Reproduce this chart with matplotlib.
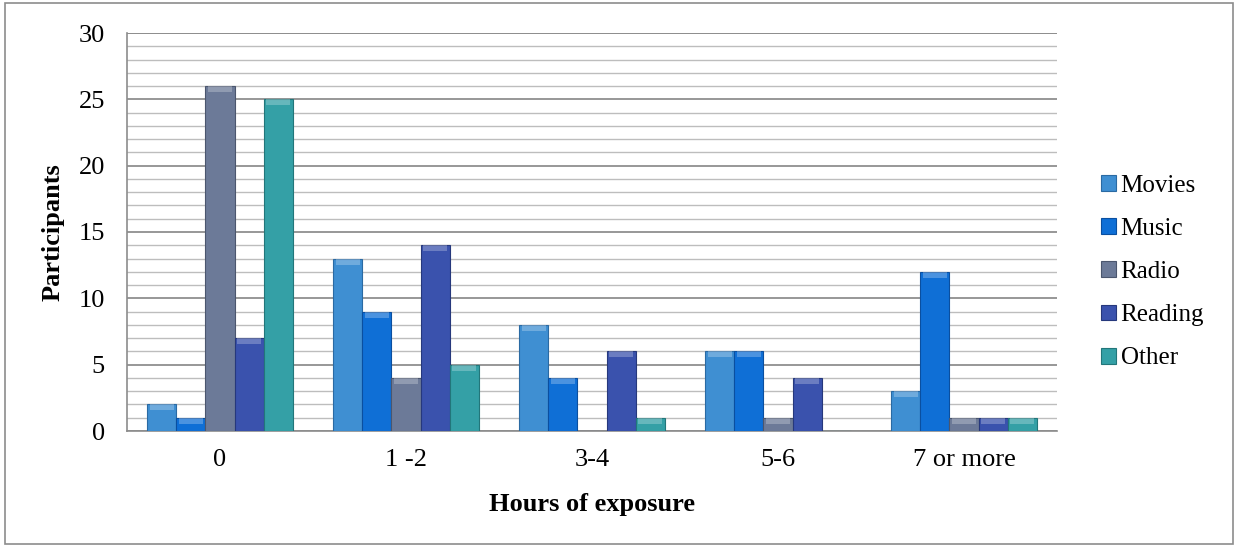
import numpy as np
import matplotlib
matplotlib.use("Agg")
import matplotlib.pyplot as plt
from matplotlib.patches import Rectangle

# ===== DANE =====
categories = ["0", "1 -2", "3-4", "5-6", "7 or more"]
series_names = ["Movies", "Music", "Radio", "Reading", "Other"]
movies = [2, 13, 8, 6, 3]
music = [1, 9, 4, 6, 12]
radio = [26, 4, 0, 1, 1]
reading = [7, 14, 6, 4, 1]
other = [25, 5, 1, 0, 1]

colors = ["#3f8fd2", "#0f6fd6", "#6c7a98", "#3a52ad", "#34a0a6"]
edge_colors = ["#2a6aa3", "#0a4fa0", "#4b566e", "#26387c", "#22767a"]

plt.rcParams["font.family"] = ["Liberation Serif", "DejaVu Serif"]

fig = plt.figure(figsize=(12.35, 5.46), dpi=100)
ax = fig.add_axes([127 / 1235, 1 - 431 / 546, 930 / 1235, 398 / 546])

# ramka wokół całego wykresu
fig.patches.append(Rectangle((5 / 1235, 2 / 546), 1228 / 1235, 541 / 546,
                             transform=fig.transFigure, fill=False,
                             edgecolor="#8c8c8c", linewidth=1.2))

x = np.arange(len(categories))
width = 0.156
all_series = [movies, music, radio, reading, other]
for i, (vals, name) in enumerate(zip(all_series, series_names)):
    offs = (i - 2) * width
    ax.bar(x + offs, vals, width=width, color=colors[i], edgecolor=edge_colors[i],
           linewidth=0.8, label=name, zorder=3)
    # jaśniejszy "daszek" na górze słupka
    cap = [min(v, 0.45) for v in vals]
    ax.bar(x + offs, cap, width=width * 0.8, bottom=np.array(vals) - np.array(cap),
           color="white", alpha=0.25, linewidth=0, zorder=4)

ax.set_xlim(-0.5, len(categories) - 0.5)
ax.set_ylim(0, 30)
ax.set_yticks(range(0, 31, 5))
ax.set_yticks(range(0, 31, 1), minor=True)
ax.set_xticks(x)
ax.set_xticklabels(categories)
ax.tick_params(axis="both", which="both", length=0, labelsize=19)
ax.tick_params(axis="y", pad=16)
ax.tick_params(axis="x", pad=13)

ax.grid(axis="y", which="major", color="#8f8f8f", linewidth=1.3, zorder=0)
ax.grid(axis="y", which="minor", color="#bdbdbd", linewidth=1.0, zorder=0)

for side in ["top", "right", "left", "bottom"]:
    ax.spines[side].set_color("#8c8c8c")
    ax.spines[side].set_linewidth(1.2)
ax.spines["right"].set_visible(False)
ax.spines["top"].set_visible(False)
ax.axhline(30, color="#8f8f8f", linewidth=1.3, zorder=0)

ax.set_xlabel("Hours of exposure", fontsize=19, fontweight="bold", labelpad=16)
ax.set_ylabel("Participants", fontsize=19, fontweight="bold", labelpad=10)

handles, labels = ax.get_legend_handles_labels()
handles = handles[:5]
leg = fig.legend(handles, labels[:5], loc="center left",
                 bbox_to_anchor=(1078 / 1235, 1 - 272 / 546),
                 frameon=False, fontsize=18, handlelength=0.6, handleheight=0.6,
                 handletextpad=0.2, labelspacing=0.85)

fig.savefig("out.png", dpi=100)
